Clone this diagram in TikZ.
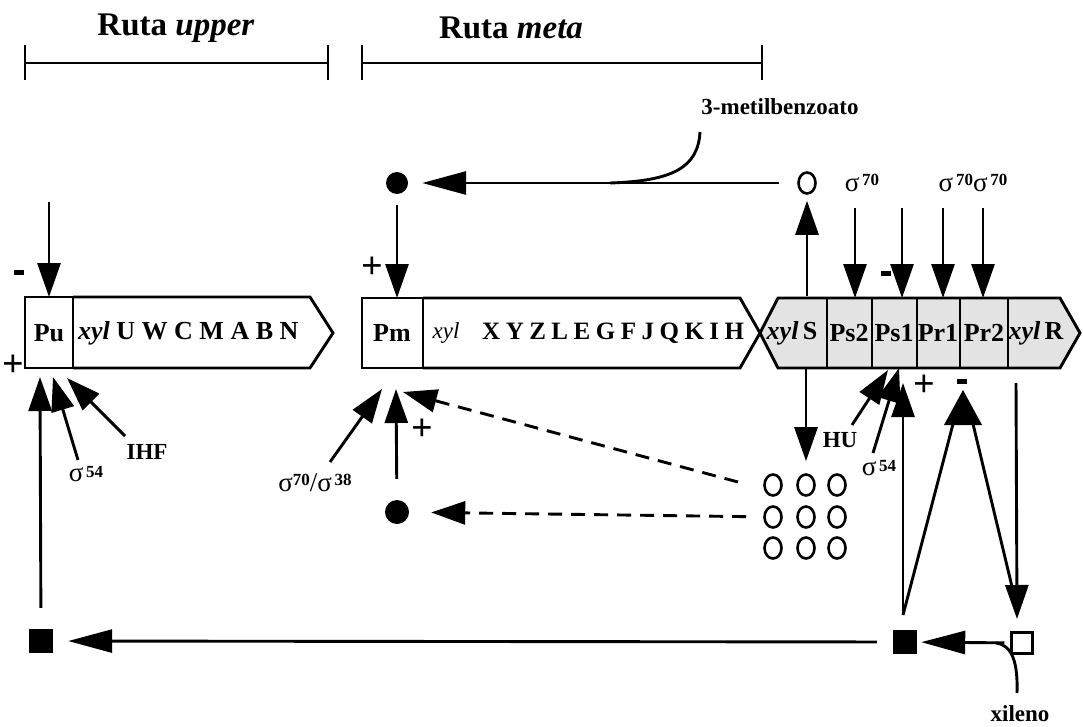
\documentclass[tikz,border=0pt]{standalone}
\usepackage{fontspec}
\setmainfont{Liberation Serif}
\usetikzlibrary{arrows.meta,shapes.geometric}
\newcommand{\sigup}[1]{σ\raisebox{0.55ex}{\fontsize{17}{17}\selectfont\bfseries\,#1}}
\newcommand{\sigmid}[1]{σ\raisebox{0.25ex}{\fontsize{17}{17}\selectfont\bfseries\,#1}}
\begin{document}
\begin{tikzpicture}[x=1pt,y=-1pt,
  lw/.style={line width=2.9pt},
  arr/.style={lw,-{Triangle[length=34pt,width=23pt]}},
  arrL/.style={lw,-{Triangle[length=44pt,width=23pt]}},
  darr/.style={arr,dash pattern=on 14pt off 9pt},
  lab/.style={font=\fontsize{23}{25}\selectfont\bfseries, inner sep=0pt},
  head/.style={font=\fontsize{33}{36}\selectfont\bfseries, inner sep=0pt},
  boxlab/.style={font=\fontsize{26}{28}\selectfont\bfseries, inner sep=0pt},
  siglab/.style={font=\fontsize{27}{28}\selectfont, inner sep=0pt},
  minus/.style={rectangle, fill, inner sep=0pt, minimum width=10pt, minimum height=5pt},
  plus/.style={font=\fontsize{38}{38}\selectfont\bfseries, inner sep=0pt},
  fcirc/.style={circle, fill, inner sep=0pt, minimum size=22pt},
  ocirc/.style={ellipse, draw, line width=2.6pt, inner sep=0pt, minimum width=17pt, minimum height=21pt},
  fsq/.style={rectangle, fill, inner sep=0pt, minimum size=24pt},
  osq/.style={rectangle, draw, line width=2.4pt, inner sep=0pt, minimum size=21pt},
]
\useasboundingbox (0,0) rectangle (1083,727);

% ---------- header ----------
\node[head] (hup) at (176,28) {Ruta \textit{upper}};
\node[head] (hmeta) at (511,28) {Ruta \textit{meta}};
\draw[lw] (25,63) -- (328,63);
\draw[line width=2.2pt] (25,45) -- (25,80);
\draw[line width=2.2pt] (328,45) -- (328,80);
\draw[lw] (362,63) -- (762,63);
\draw[line width=2.2pt] (362,45) -- (362,80);
\draw[line width=2.2pt] (762,45) -- (762,80);

% ---------- 3-metilbenzoato ----------
\node[lab] (mb) at (780,107) {3-metilbenzoato};
\coordinate (mbc) at (700,132);
\coordinate (mbj) at (610,183);
\draw[lw] (mbc) .. controls (698,168) and (672,181) .. (mbj);

\node[ocirc] (oc1) at (807,183) {};
\node[fcirc] (fc1) at (397,183) {};
\draw[arrL, shorten <=18pt, shorten >=14pt] (oc1) -- (fc1);

% ---------- upper operon ----------
\draw[lw] (25,297) rectangle (73,368);
\draw[lw] (73,297) -- (310,297) -- (333,333) -- (310,368) -- (73,368);
\node[boxlab] (pu) at (49,333) {Pu};
\node[boxlab, anchor=west] (gu) at (78,333) {\textit{xyl} U W C M A B N};

\coordinate (puTop) at (49,202);
\coordinate (puT) at (49,297);
\draw[arr] (puTop) -- (puT);
\node[minus] at (19,272) {};
\node[plus] at (13,366) {+};

\node[fsq] (sq1) at (41,641) {};
\coordinate (puB1) at (40,377);
\draw[arr, shorten <=21pt] (sq1) -- (puB1);
\coordinate (s54a) at (78,460);
\coordinate (puB2) at (53,377);
\draw[arr] (s54a) -- (puB2);
\coordinate (ihfa) at (125,436);
\coordinate (puB3) at (67,378);
\draw[arr] (ihfa) -- (puB3);
\node[siglab] (s54l) at (86,474) {\sigmid{54}};
\node[lab] (ihf) at (147,452) {IHF};

% ---------- meta operon ----------
\draw[lw] (362,298) rectangle (423,368);
\draw[lw] (423,298) -- (740,298) -- (760,333) -- (740,368) -- (423,368);
\node[boxlab] (pm) at (392,333) {Pm};
\node[font=\fontsize{23}{24}\selectfont\itshape, inner sep=0pt] (xylm) at (446,333) {xyl};
\node[font=\fontsize{25}{27}\selectfont\bfseries, inner sep=0pt, anchor=west] (gm) at (482,333)
  {X\hspace{0.22em}Y\hspace{0.22em}Z\hspace{0.22em}L\hspace{0.22em}E\hspace{0.22em}G\hspace{0.22em}F\hspace{0.22em}J\hspace{0.22em}Q\hspace{0.22em}K\hspace{0.22em}I\hspace{0.22em}H};

\coordinate (pmT) at (397,298);
\draw[arr, shorten <=11pt] (fc1) -- (pmT);
\node[plus] at (372,268) {+};

% ---------- regulatory region ----------
\draw[lw, fill=gray!22] (778,298) -- (1060,298) -- (1080,333) -- (1060,368) -- (778,368) -- (760,333) -- cycle;
\foreach \x in {827,872,917,960,1008} \draw[lw] (\x,298) -- (\x,368);
\node[boxlab] (xs) at (792,333) {\textit{xyl}\,S};
\node[boxlab] (ps2) at (849,333) {Ps2};
\node[boxlab] (ps1) at (894,333) {Ps1};
\node[boxlab] (pr1) at (938,333) {Pr1};
\node[boxlab] (pr2) at (984,333) {Pr2};
\node[boxlab] (xr) at (1036,333) {\textit{xyl}\,R};

% sigma arrows on top
\node[siglab] (s70a) at (862,183) {\sigup{70}};
\node[siglab] (s70b) at (973,183) {\sigup{70}\sigup{70}};
\coordinate (t1) at (855,208); \coordinate (ps2T) at (855,298);
\coordinate (t2) at (902,208); \coordinate (ps1T) at (902,298);
\coordinate (t3) at (943,208); \coordinate (pr1T) at (943,298);
\coordinate (t4) at (983,208); \coordinate (pr2T) at (983,298);
\draw[arr] (t1) -- (ps2T);
\draw[arr] (t2) -- (ps1T);
\draw[arr] (t3) -- (pr1T);
\draw[arr] (t4) -- (pr2T);
\node[minus] at (886,273) {};

% xylS up to open circle
\coordinate (xsT) at (807,296);
\draw[arr, shorten >=6pt] (xsT) -- (oc1);

% xylS down to circles
\foreach \c/\cx in {1/773,2/806,3/837}
  \foreach \r/\ry in {1/485,2/517,3/548}
    \node[ocirc] (g\r\c) at (\cx,\ry) {};
\coordinate (xsB) at (806,368);
\draw[arr, shorten >=12pt] (xsB) -- (g12);

% dashed arrows
\coordinate (dst) at (738,482);
\coordinate (pmB3) at (403,392);
\draw[darr] (dst) -- (pmB3);
\node[fcirc, minimum size=24pt] (fc2) at (397,512) {};
\draw[darr, shorten <=17pt, shorten >=22pt] (g21) -- (fc2);

% arrows under Pm
\coordinate (pmB2) at (396,389);
\draw[arr, shorten <=21pt] (fc2) -- (pmB2);
\node[plus] at (422,430) {+};
\coordinate (s38a) at (330,462);
\coordinate (pmB1) at (382,389);
\draw[arr] (s38a) -- (pmB1);
\node[siglab] (s38l) at (315,483) {σ\raisebox{0.55ex}{\fontsize{17}{17}\selectfont\bfseries 70}/\sigup{38}};

% arrows under Ps1
\coordinate (hua) at (852,425); \coordinate (ps1B1) at (888,370);
\draw[arr] (hua) -- (ps1B1);
\node[lab] (hu) at (840,440) {HU};
\coordinate (s54b) at (873,453); \coordinate (ps1B2) at (899,368);
\draw[arr] (s54b) -- (ps1B2);
\node[siglab] (s54l2) at (879,468) {\sigmid{54}};

\node[fsq] (sq2) at (905,642) {};
\coordinate (sqTop) at (903,615);
\coordinate (ps1B3) at (903,383);
\draw[arr] (sqTop) -- (ps1B3);
\node[plus] at (924,386) {+};

% repression of Pr2
\coordinate (mApex) at (963,390);
\coordinate (mL) at (953,424);
\coordinate (mR) at (973,424);
\coordinate (xLeg) at (1014,595);
\fill (mApex) -- (944,425) -- (982,425) -- cycle;
\draw[lw] (sqTop) -- (mL);
\draw[lw] (xLeg) -- (mR);
\node[minus] at (962,381) {};

% xylR down to xylene
\node[osq] (os) at (1022,643) {};
\coordinate (xrB) at (1016,383);
\coordinate (xrTip) at (1017,619);
\draw[arr] (xrB) -- (xrTip);

% xylene conversion
\draw[arrL, shorten <=6pt, shorten >=4pt] (os) -- (sq2);
\draw[arrL, shorten <=16pt, shorten >=15pt] (sq2) -- (sq1);
\coordinate (xj) at (996,643);
\coordinate (xc) at (1017,693);
\draw[lw] (xj) .. controls (1012,645) and (1018,662) .. (xc);
\node[lab] (xil) at (1020,714) {xileno};
\end{tikzpicture}
\end{document}
